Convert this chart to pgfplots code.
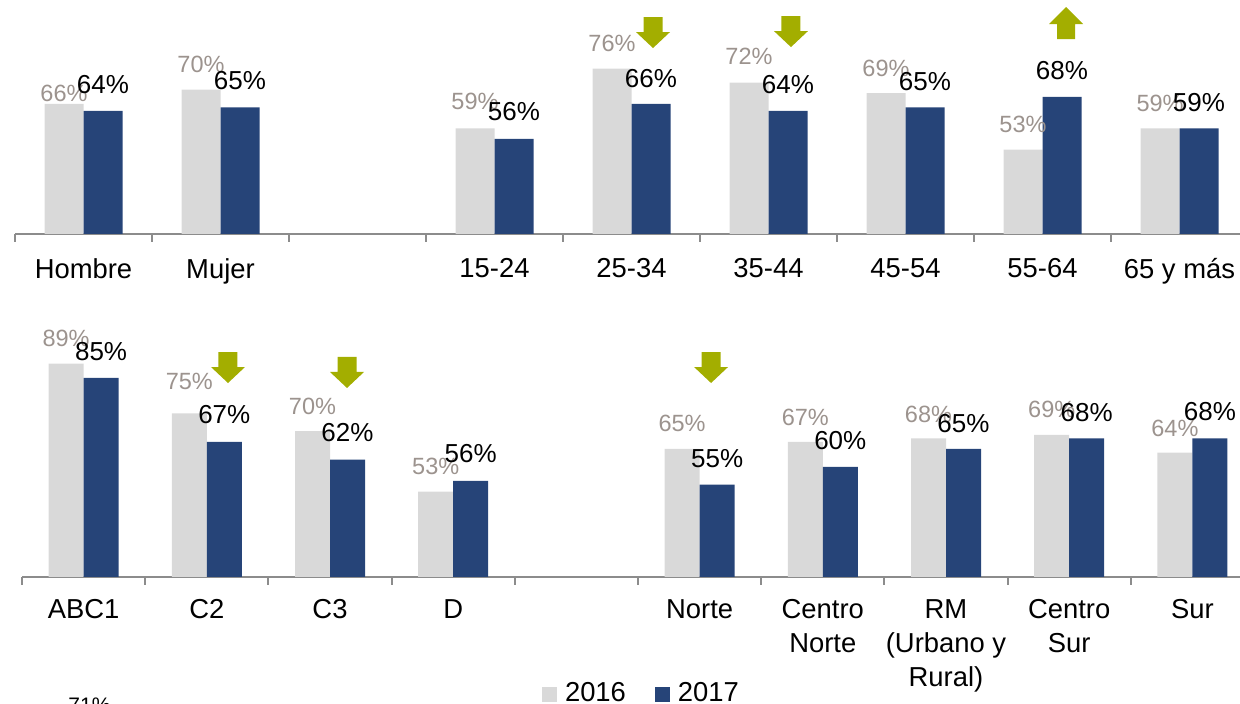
\documentclass[border=0pt]{standalone}
\usepackage{pgfplots}
\pgfplotsset{compat=1.18}
\usepackage{pgfplotstable}
\usepackage{fontspec}
\setmainfont{Liberation Sans}
\definecolor{barGray}{HTML}{D9D9D9}
\definecolor{barBlue}{HTML}{264478}
\definecolor{labGray}{HTML}{9C938E}
\definecolor{axGray}{HTML}{8C8C8C}
\definecolor{arrOlive}{HTML}{A3AE00}

\pgfplotstableread{
x  g  b  dg   db
0  66 64 1    8.5
1  70 65 8.5  9
3  59 56 9.5  9
4  76 66 8.5  8
5  72 64 9    8.5
6  69 65 8.5  8.5
7  53 68 8.5  8.5
8  59 59 8.5  8.5
}\topdata

\pgfplotstableread{
x  g  b  dg   db
0  89 85 8.5  8.5
1  75 67 12   9
2  70 62 8.5  9
3  53 56 8.5  9
5  65 55 8.5  8.5
6  67 60 8    8.5
7  68 65 8    8
8  69 68 8.5  8.5
9  64 68 8    9
}\botdata

\newcommand{\catfont}{\fontsize{13.7pt}{17pt}\selectfont}
\newcommand{\blackfont}{\fontsize{13pt}{15pt}\selectfont}
\newcommand{\grayfont}{\fontsize{11.75pt}{14pt}\selectfont}

\pgfplotsset{
  rowstyle/.style={
    scale only axis,
    ybar=0pt,
    axis x line*=bottom,
    axis y line=none,
    x axis line style={draw=axGray, line width=1pt},
    ymin=29,
    major tick length=0pt,
    minor tick length=4pt,
    tick align=outside,
    minor x tick style={draw=axGray, line width=1pt},
    xticklabel style={font=\catfont, align=center, inner sep=0pt, anchor=north},
    ytick=\empty,
    /pgf/number format/assume math mode=true,
  },
  gbar/.style={fill=barGray, draw=none,
    visualization depends on={\thisrow{dg} \as \dy},
    nodes near coords={\pgfmathprintnumber[assume math mode=true]{\pgfplotspointmeta}\%},
    nodes near coords style={font=\grayfont, text=labGray, anchor=base, inner sep=0pt, yshift=\dy pt},
  },
  bbar/.style={fill=barBlue, draw=none,
    visualization depends on={\thisrow{db} \as \dy},
    nodes near coords={\pgfmathprintnumber[assume math mode=true]{\pgfplotspointmeta}\%},
    nodes near coords style={font=\blackfont, text=black, anchor=base, inner sep=0pt, yshift=\dy pt},
  },
}

\begin{document}
\begin{tikzpicture}
\useasboundingbox (0,0) rectangle (620pt,352pt);
\clip (0,0) rectangle (620pt,352pt);

\begin{axis}[rowstyle, at={(7.5pt,235pt)}, anchor=south west,
  width=616.5pt, height=117pt, xmin=-0.5, xmax=8.5, ymax=95.5,
  bar width=19.5pt,
  xtick={0,1,3,4,5,6,7,8},
  xticklabels={Hombre,Mujer,15-24,25-34,35-44,45-54,55-64,65 y más},
  minor xtick={-0.5,0.5,...,8.5},
  xticklabel style={yshift=-12pt},
]
\addplot[gbar] table[x=x,y=g]{\topdata};
\addplot[bbar] table[x=x,y=b]{\topdata};
\coordinate (t1) at (axis cs:4.157,90.65);
\coordinate (t2) at (axis cs:5.164,90.93);
\coordinate (u1) at (axis cs:7.172,93.49);
\end{axis}

\begin{axis}[rowstyle, at={(11pt,63.5pt)}, anchor=south west,
  width=616pt, height=138.5pt, xmin=-0.5, xmax=9.5, ymax=106.9,
  bar width=17.5pt,
  xtick={0,1,2,3,5,6,7,8,9},
  xticklabels={ABC1,C2,C3,D,Norte,{Centro\\Norte},{RM\\(Urbano y\\Rural)},{Centro\\Sur},Sur},
  minor xtick={-0.5,0.5,...,9.5},
  xticklabel style={yshift=-11pt},
  legend columns=2,
  legend image code/.code={\fill[#1] (0pt,-4.25pt) rectangle (7.5pt,3.25pt);},
  legend style={at={(axis description cs:0.502,-0.419)}, anchor=center,
    draw=none, fill=none, inner sep=0pt, font=\catfont,
    nodes={inner sep=0pt},
    /tikz/every odd column/.append style={column sep=4pt},
    /tikz/every even column/.append style={column sep=14.5pt}},
]
\addplot[gbar] table[x=x,y=g]{\botdata};
\addplot[bbar] table[x=x,y=b]{\botdata};
\legend{2016,2017}
\coordinate (b1) at (axis cs:1.172,92.27);
\coordinate (b2) at (axis cs:2.138,90.87);
\coordinate (b3) at (axis cs:5.093,92.27);
\end{axis}

\foreach \c in {t1,t2,b1,b2,b3}{
  \fill[arrOlive] (\c) ++(-4.75pt,0) -- ++(9.5pt,0) -- ++(0,-7.5pt) -- ++(3.75pt,0)
    -- ++(-8.5pt,-8pt) -- ++(-8.5pt,8pt) -- ++(3.75pt,0) -- cycle;
}
\fill[arrOlive] (u1) -- ++(8.5pt,-8.5pt) -- ++(-4pt,0) -- ++(0,-7.5pt) -- ++(-9pt,0)
  -- ++(0,7.5pt) -- ++(-4pt,0) -- cycle;

\node[anchor=base west, inner sep=0pt, font=\fontsize{10.5pt}{12pt}\selectfont] at (34pt,-4.5pt) {71\%};
\end{tikzpicture}
\end{document}
